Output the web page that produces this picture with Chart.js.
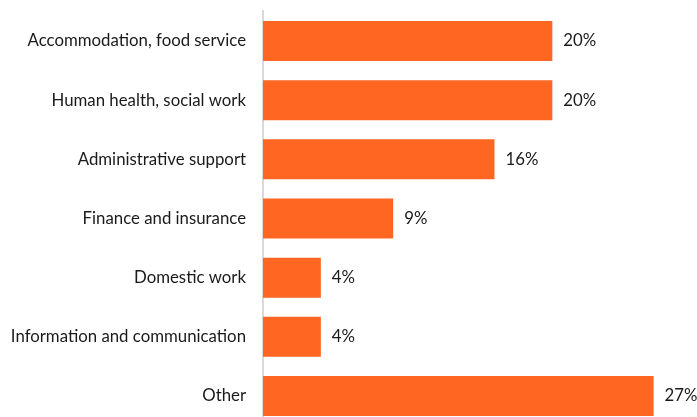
<!DOCTYPE html>
<html>
<head>
<meta charset="utf-8">
<script src="https://cdn.jsdelivr.net/npm/chart.js@4"></script>
<style>
    html, body { margin: 0; padding: 0; background: #fff; overflow: hidden; }
    canvas { display: block; }
</style>
</head>
<body>
<canvas id="sectorChart" width="697" height="434"></canvas>
<script>
// Share of workers by sector (%)
const sectors = [
    'Accommodation, food service',
    'Human health, social work',
    'Administrative support',
    'Finance and insurance',
    'Domestic work',
    'Information and communication',
    'Other'
];
const shares = [20, 20, 16, 9, 4, 4, 27];

const barColor = '#FF6621';
const labelFont = { family: 'Lato, "Open Sans", sans-serif', size: 16.8, lineHeight: 1 };

// Writes the percentage just past the end of each bar
const valueLabels = {
    id: 'valueLabels',
    afterDatasetsDraw(chart) {
        const ctx = chart.ctx;
        const meta = chart.getDatasetMeta(0);
        ctx.save();
        ctx.font = labelFont.size + 'px ' + labelFont.family;
        ctx.fillStyle = '#1a1a1a';
        ctx.textAlign = 'left';
        ctx.textBaseline = 'middle';
        meta.data.forEach((bar, i) => {
            ctx.fillText(shares[i] + '%', bar.x + 11, bar.y);
        });
        ctx.restore();
    }
};

document.addEventListener('DOMContentLoaded', function () {
    const ctx = document.getElementById('sectorChart').getContext('2d');
    new Chart(ctx, {
        type: 'bar',
        data: {
            labels: sectors,
            datasets: [{
                data: shares,
                backgroundColor: barColor,
                borderWidth: 0,
                barPercentage: 0.676,
                categoryPercentage: 1
            }]
        },
        options: {
            indexAxis: 'y',
            responsive: false,
            animation: false,
            layout: { padding: { top: 11.4, right: 0, bottom: 0, left: 0 } },
            plugins: {
                legend: { display: false },
                tooltip: { enabled: false }
            },
            scales: {
                x: {
                    display: false,
                    min: 0,
                    max: 30
                },
                y: {
                    afterFit(scale) { scale.width = 263; },
                    // tick marks stay hidden, their length only spaces the labels
                    grid: { display: false, drawTicks: true, tickLength: 17 },
                    border: { display: true, color: '#d9d9d9', width: 2 },
                    ticks: {
                        color: '#1a1a1a',
                        font: labelFont,
                        padding: 0
                    }
                }
            }
        },
        plugins: [valueLabels]
    });
});
</script>
</body>
</html>
